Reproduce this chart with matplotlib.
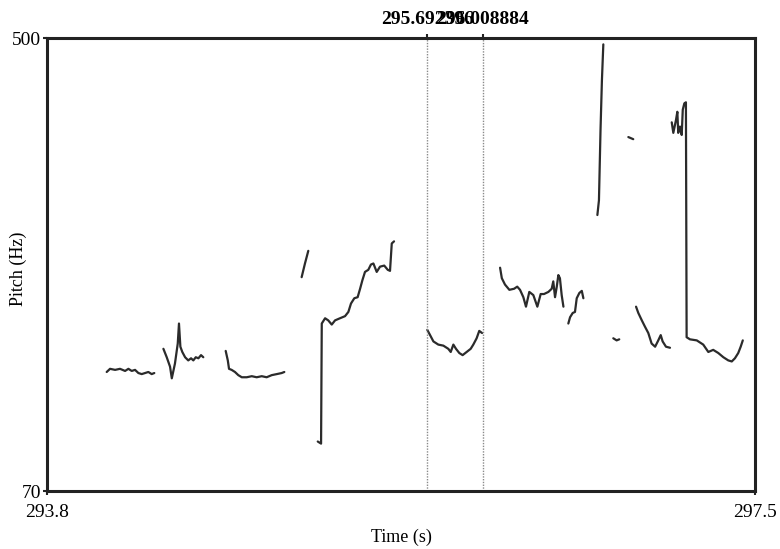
import numpy as np
import matplotlib.pyplot as plt

plt.rcParams['font.family'] = ['Liberation Serif', 'DejaVu Serif']

# voiced stretches of the pitch track (time in s, F0 in Hz)
seg1_t = [293.860, 293.879, 293.908, 293.936, 293.965, 293.984, 294.003, 294.022,
          294.041, 294.060, 294.079, 294.098, 294.117, 294.132]
seg1_hz = [183, 186, 185, 186, 184, 186, 184, 185, 182, 181, 182, 183, 181, 182]

seg2_t = [294.184, 294.203, 294.222, 294.232, 294.250, 294.266, 294.273, 294.281,
          294.292, 294.308, 294.326, 294.342, 294.355, 294.369, 294.384, 294.399, 294.412]
seg2_hz = [205, 197, 188, 177, 191, 210, 229, 207, 202, 197, 194, 196, 194, 197, 196, 199, 197]

seg3_t = [294.540, 294.552, 294.559, 294.574, 294.593, 294.612, 294.632, 294.660,
          294.689, 294.717, 294.746, 294.774, 294.803, 294.832, 294.860, 294.875]
seg3_hz = [203, 194, 186, 185, 183, 180, 178, 178, 179, 178, 179, 178, 180, 181, 182, 183]

seg4_t = [294.974, 294.993, 295.012]
seg4_hz = [273, 286, 298]

seg5_t = [295.066, 295.085, 295.089, 295.108, 295.126, 295.146, 295.165, 295.193,
          295.222, 295.241, 295.256, 295.275, 295.294, 295.308, 295.321, 295.336,
          295.355, 295.370, 295.384, 295.403, 295.422, 295.446, 295.466, 295.479,
          295.489, 295.502]
seg5_hz = [117, 115, 229, 234, 232, 228, 232, 234, 236, 240, 248, 253, 254, 262, 270,
           278, 280, 285, 286, 278, 283, 284, 280, 279, 305, 307]

seg6_t = [295.692, 295.708, 295.727, 295.755, 295.784, 295.812, 295.826, 295.841,
          295.856, 295.875, 295.894, 295.917, 295.940, 295.955, 295.974, 295.989, 296.005]
seg6_hz = [223, 218, 212, 209, 208, 205, 202, 209, 205, 201, 199, 202, 205, 209, 215, 222, 220]

seg7_t = [296.108, 296.118, 296.136, 296.161, 296.188, 296.206, 296.222, 296.241,
          296.256, 296.275, 296.298, 296.321, 296.340, 296.359, 296.384, 296.403,
          296.412, 296.422, 296.432, 296.441, 296.450, 296.460, 296.470]
seg7_hz = [282, 272, 266, 261, 262, 264, 261, 254, 245, 259, 256, 245, 257, 257, 259,
           262, 269, 254, 264, 275, 272, 256, 245]

seg8_t = [296.498, 296.508, 296.523, 296.536, 296.546, 296.561, 296.575, 296.584]
seg8_hz = [229, 235, 239, 240, 253, 258, 260, 253]

seg9_t = [296.664, 296.673, 296.682, 296.690, 296.698]
seg9_hz = [332, 346, 413, 460, 494]

seg10_t = [296.755, 296.774, 296.789]
seg10_hz = [215, 213, 214]

seg11_t = [296.841, 296.869]
seg11_hz = [406, 404]

seg12_t = [296.885, 296.898, 296.918, 296.936, 296.955, 296.974, 296.994, 297.012,
           297.026, 297.037, 297.056, 297.079]
seg12_hz = [245, 239, 232, 226, 220, 210, 207, 213, 218, 212, 207, 206]

seg13_t = [297.089, 297.098, 297.113, 297.121, 297.126, 297.136, 297.146, 297.152,
           297.161, 297.170, 297.174, 297.193, 297.232, 297.269, 297.298, 297.326,
           297.355, 297.384, 297.412, 297.432, 297.450, 297.469, 297.483, 297.495]
seg13_hz = [420, 410, 422, 430, 410, 416, 408, 432, 438, 439, 216, 214, 213, 209, 202,
            204, 201, 197, 194, 193, 196, 201, 207, 213]

# interval boundaries marked on top
mark_times = [295.692396, 296.008884]
mark_labels = ['295.692396', '296.008884']

t_min, t_max = 293.519, 297.565
edge_labels = ['293.8', '297.5']
f_min, f_max = 70, 500

fig = plt.figure(figsize=(7.8, 5.49), dpi=100)
ax = fig.add_axes([0.0603, 0.1056, 0.9077, 0.8251])

segments = [(seg1_t, seg1_hz), (seg2_t, seg2_hz), (seg3_t, seg3_hz), (seg4_t, seg4_hz),
            (seg5_t, seg5_hz), (seg6_t, seg6_hz), (seg7_t, seg7_hz), (seg8_t, seg8_hz),
            (seg9_t, seg9_hz), (seg10_t, seg10_hz), (seg11_t, seg11_hz),
            (seg12_t, seg12_hz), (seg13_t, seg13_hz)]
for t, f in segments:
    ax.plot(t, f, color='#2b2b2b', lw=1.6, solid_capstyle='round', solid_joinstyle='round')

for m in mark_times:
    ax.axvline(m, color='#8a8a8a', lw=1.0, ls=(0, (1, 1)))

ax.set_xlim(t_min, t_max)
ax.set_ylim(f_min, f_max)
ax.set_xticks([t_min, t_max])
ax.set_xticklabels(edge_labels)
ax.set_yticks([f_min, f_max])
ax.tick_params(labelsize=14, length=3, width=1.5, pad=1, color='#222222')
ax.tick_params(axis='x', pad=6)
ax.set_xlabel('Time (s)', fontsize=13)
ax.set_ylabel('Pitch (Hz)', fontsize=13)
ax.xaxis.set_label_coords(0.5, -0.083)
ax.yaxis.set_label_coords(-0.029, 0.49)

for sp in ax.spines.values():
    sp.set_linewidth(2.2)
    sp.set_color('#222222')

top = ax.secondary_xaxis('top')
top.set_xticks(mark_times)
top.set_xticklabels(mark_labels, fontweight='bold', fontsize=14)
top.tick_params(length=3, width=1.5, pad=4, color='#222222')
top.spines['top'].set_visible(False)

fig.savefig('out.png', dpi=100)
